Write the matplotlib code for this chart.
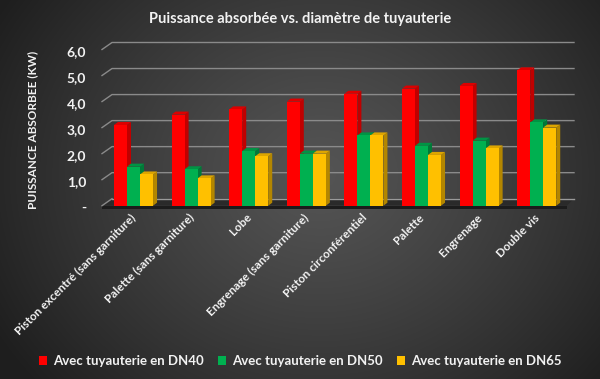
import numpy as np
import matplotlib
matplotlib.use('Agg')
import matplotlib.pyplot as plt
from matplotlib.patches import Polygon, Rectangle, Patch
from matplotlib.transforms import blended_transform_factory

categories = ["Piston excentré (sans garniture)", "Palette (sans garniture)", "Lobe",
              "Engrenage (sans garniture)", "Piston circonférentiel", "Palette",
              "Engrenage", "Double vis"]
dn40 = [3.1, 3.5, 3.7, 4.0, 4.3, 4.5, 4.6, 5.2]
dn50 = [1.5, 1.4, 2.1, 2.0, 2.7, 2.3, 2.5, 3.2]
dn65 = [1.2, 1.05, 1.9, 2.0, 2.7, 1.95, 2.2, 3.0]
series_names = ["Avec tuyauterie en DN40", "Avec tuyauterie en DN50", "Avec tuyauterie en DN65"]
y_ticks = [0, 1, 2, 3, 4, 5, 6]
y_ticklabels = ["-", "1,0", "2,0", "3,0", "4,0", "5,0", "6,0"]
title = "Puissance absorbée vs. diamètre de tuyauterie"
ylabel = "PUISSANCE ABSORBEE (KW)"

FONT = ['Lato', 'DejaVu Sans']
plt.rcParams['font.family'] = FONT
TXT = '#F2F2F2'

W, H = 600, 379
fig = plt.figure(figsize=(6, 3.79), dpi=100)

# background radial gradient
bg = fig.add_axes([0, 0, 1, 1])
yy, xx = np.mgrid[0:H, 0:W]
cx, cy = 320, 175
r = np.sqrt(((xx - cx) / (W * 0.62)) ** 2 + ((yy - cy) / (H * 0.85)) ** 2)
v = 0.33 - 0.21 * np.clip(r, 0, 1) ** 1.2
bg.imshow(np.dstack([v, v, v]), extent=[0, W, H, 0], aspect='auto', interpolation='bilinear')
bg.set_xlim(0, W); bg.set_ylim(H, 0)
bg.axis('off')

# plot axes (front plane)
L, R = 102, 567
B, T = 205.7, 49.5
ax = fig.add_axes([L / W, 1 - B / H, (R - L) / W, (B - T) / H])
ax.set_xlim(-0.547, 7.526)
ax.set_ylim(0, 6)
ax.axis('off')
px_x = (7.526 + 0.547) / (R - L)
px_y = 6 / (B - T)

DX, DY = 10 * px_x, 7 * px_y
x0, x1 = -0.547, 7.526
xback_r = x0 + (574 - L) * px_x
grid_c = '#8a8a8a'

# floor
floor = Polygon([(x0, 0), (x1, 0), (xback_r, DY), (x0 + DX, DY)], closed=True,
                fc='#2a2a2a', ec='none', zorder=1, clip_on=False)
ax.add_patch(floor)
slab = Polygon([(x0, 0), (x1, 0), (x1, -3 * px_y), (x0, -3 * px_y)], closed=True,
               fc='#1c1c1c', ec='none', zorder=1, clip_on=False)
ax.add_patch(slab)
ax.plot([x0 + DX, xback_r], [DY, DY], color='#9a9a9a', lw=1.0, zorder=1.5, clip_on=False)

for val in y_ticks[1:]:
    ax.plot([x0, x0 + DX, xback_r], [val, val + DY, val + DY], color=grid_c, lw=1.0,
            zorder=1, clip_on=False)
ax.plot([x0, x0 + DX], [0, DY], color=grid_c, lw=1.0, zorder=1, clip_on=False)

# bars
w = 0.226
bdx, bdy = 4 * px_x, 3 * px_y
colors = [('#FF0000', '#C00000', '#DD0000'),
          ('#00B050', '#007A38', '#009444'),
          ('#FFC000', '#B38600', '#DDA500')]
series = [dn40, dn50, dn65]
z = 2
for i in range(len(categories)):
    for k, s in enumerate(series):
        h = s[i]
        cxk = i + (k - 1) * w
        xl, xr = cxk - w / 2, cxk + w / 2
        front, side, top = colors[k]
        ax.add_patch(Polygon([(xr, 0), (xr, h), (xr + bdx, h + bdy), (xr + bdx, bdy)],
                             closed=True, fc=side, ec='none', zorder=z, clip_on=False))
        ax.add_patch(Polygon([(xl, h), (xr, h), (xr + bdx, h + bdy), (xl + bdx, h + bdy)],
                             closed=True, fc=top, ec='none', zorder=z, clip_on=False))
        ax.add_patch(Rectangle((xl, 0), w, h, fc=front, ec='none', zorder=z + 0.5, clip_on=False))
        z += 1

# y tick labels
trans = blended_transform_factory(fig.transFigure, ax.transData)
for val, lab in zip(y_ticks, y_ticklabels):
    fig.text(86 / W, val - 2.5 * px_y, lab, transform=trans, ha='right', va='center',
             color=TXT, fontsize=10, fontweight='bold')

fig.text(33 / W, 1 - 130 / H, ylabel, rotation=90, ha='center', va='center',
         color=TXT, fontsize=8.5, fontweight='bold')

# category labels
for i, c in enumerate(categories):
    ax.text(i + 1 * px_x, -10 * px_y, c, rotation=45, ha='right', va='center',
            rotation_mode='anchor', color=TXT, fontsize=8.5, fontweight='bold', clip_on=False)

fig.text(0.5, 1 - 19 / H, title, ha='center', va='center', color=TXT,
         fontsize=10.5, fontweight='bold')

handles = [Patch(fc=colors[k][0], ec='none') for k in range(3)]
leg = fig.legend(handles, series_names, loc='center', bbox_to_anchor=(0.5, 1 - 361 / H),
                 ncol=3, frameon=False, handlelength=0.65, handleheight=0.65,
                 handletextpad=0.4, columnspacing=1.1, labelcolor=TXT,
                 prop={'weight': 'bold', 'size': 9.5})

fig.savefig('out.png', dpi=100)
